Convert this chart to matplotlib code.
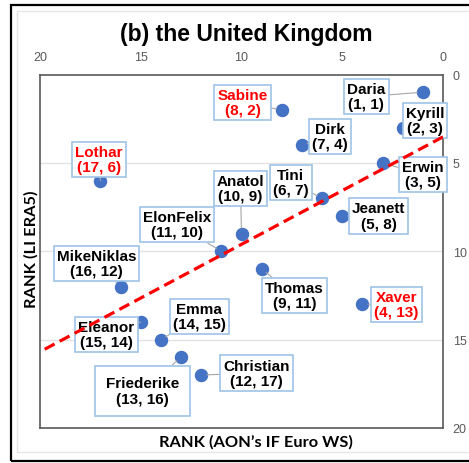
import numpy as np
import matplotlib
matplotlib.use("Agg")
import matplotlib.pyplot as plt
from matplotlib.patches import Rectangle

# storm names with rank in the two data sets
names = ["Daria", "Sabine", "Kyrill", "Dirk", "Erwin", "Lothar", "Tini", "Jeanett",
         "Anatol", "ElonFelix", "Thomas", "MikeNiklas", "Xaver", "Eleanor", "Emma",
         "Friederike", "Christian"]
aon_rank = [1, 8, 2, 7, 3, 17, 6, 5, 10, 11, 9, 16, 4, 15, 14, 13, 12]
li_rank = [1, 2, 3, 4, 5, 6, 7, 8, 9, 10, 11, 12, 13, 14, 15, 16, 17]
red_names = {"Sabine", "Lothar", "Xaver"}

# where the label boxes sit (data coords), layout only
label_pos = {
    "Daria": (3.8, 1.25), "Sabine": (9.95, 1.6), "Kyrill": (0.9, 2.6),
    "Dirk": (5.6, 3.5), "Erwin": (1.0, 5.67), "Lothar": (17.06, 4.8),
    "Tini": (7.56, 6.1), "Jeanett": (3.2, 8.0), "Anatol": (10.05, 6.46),
    "ElonFelix": (13.2, 8.5), "Thomas": (7.36, 12.5), "MikeNiklas": (17.2, 10.7),
    "Xaver": (2.3, 13.0), "Eleanor": (16.7, 14.7), "Emma": (12.1, 13.7),
    "Friederike": (14.9, 17.9), "Christian": (9.25, 16.9),
}

plt.rcParams['font.family'] = ['Liberation Sans', 'DejaVu Sans']

fig = plt.figure(figsize=(4.69, 4.64), dpi=100)
fig.patches.append(Rectangle((17/469, 1-453/464), 1.2, 441/464, transform=fig.transFigure,
                             fill=False, ec='#e6e6e6', lw=1.0))
fig.patches.append(Rectangle((11/469, 1-462/464), 1.2, 456/464, transform=fig.transFigure,
                             fill=False, ec='black', lw=1.6))

ax = fig.add_axes([40/469, 1-429/464, 403/469, 353.5/464])
ax.set_xlim(20, 0)
ax.set_ylim(20, 0)
ax.set_xticks([20, 15, 10, 5, 0])
ax.set_yticks([0, 5, 10, 15, 20])
ax.xaxis.tick_top()
ax.yaxis.tick_right()
ax.tick_params(length=0, labelsize=9, labelcolor='#595959')
ax.tick_params(axis='x', pad=8)
ax.tick_params(axis='y', pad=7)
for s in ax.spines.values():
    s.set_color('#595959')
    s.set_linewidth(1.2)
for yv in [5, 10, 15]:
    ax.axhline(yv, color='#e3e3e3', lw=1.0, zorder=0)

ax.scatter(aon_rank, li_rank, s=75, color='#4472C4', zorder=3)

for n, xv, yv in zip(names, aon_rank, li_rank):
    col = '#FF0000' if n in red_names else 'black'
    pad = 0.7 if n == "Friederike" else 0.2
    ax.annotate(f"{n}\n({xv}, {yv})", xy=(xv, yv), xytext=label_pos[n],
                ha='center', va='center', fontsize=11, fontweight='bold',
                color=col, linespacing=1.12, zorder=4,
                bbox=dict(boxstyle=f'square,pad={pad}', fc='white', ec='#9DC3E6', lw=1.2),
                arrowprops=dict(arrowstyle='-', color='#a6a6a6', lw=0.8,
                                shrinkA=0, shrinkB=4))

slope, icpt = np.polyfit(aon_rank, li_rank, 1)
xs = np.array([0, 20])
ax.plot(xs, icpt + slope * xs, color='#FF0000', lw=2.3, ls=(0, (3.5, 1.8)), zorder=5)

fig.text(0.526, 0.925, "(b) the United Kingdom", ha='center', va='center',
         fontsize=16.5, fontweight='bold')
fig.text(256/469, 1-442/464, "RANK (AON\u2019s IF Euro WS)", ha='center', va='center',
         fontsize=11.8, fontweight='bold', family=['Lato', 'DejaVu Sans'])
fig.text(31/469, 1-249/464, "RANK (LI ERA5)", ha='center', va='center', rotation=90,
         fontsize=11.8, fontweight='bold', family=['Lato', 'DejaVu Sans'])

fig.savefig('out.png', dpi=100)
